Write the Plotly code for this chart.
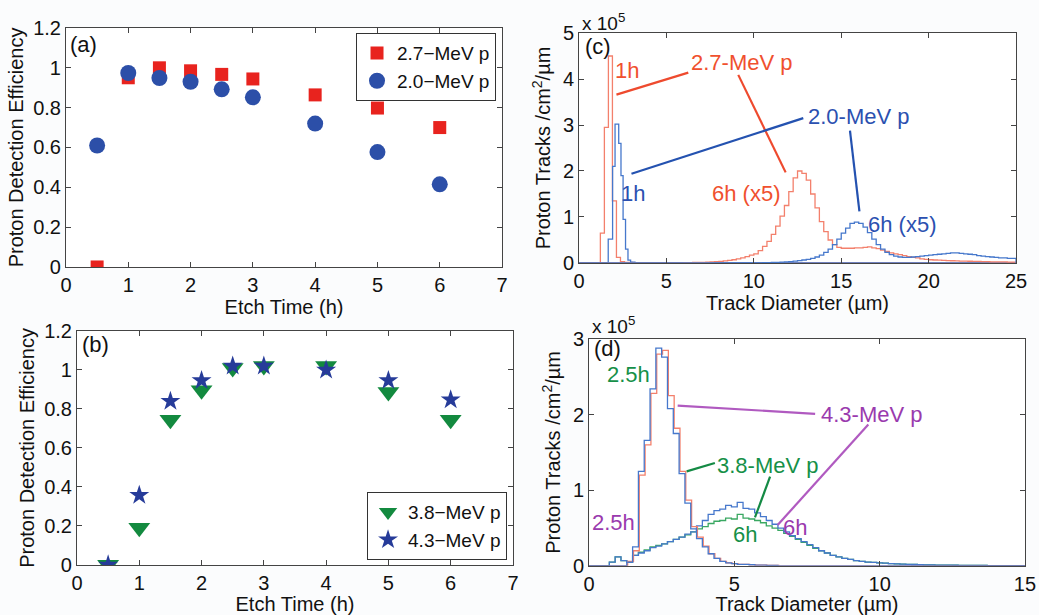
import numpy as np
import plotly.graph_objects as go

# ---------------- data ----------------
etch_time = [0.5, 1, 1.5, 2, 2.5, 3, 4, 5, 6]
eff_27 = [0.0, 0.95, 1.0, 0.985, 0.967, 0.944, 0.864, 0.798, 0.70]
eff_20 = [0.61, 0.974, 0.949, 0.93, 0.892, 0.852, 0.72, 0.577, 0.415]
eff_38 = [0.0, 0.19, 0.745, 0.896, 1.01, 1.02, 1.02, 0.887, 0.745]
eff_43 = [0.0, 0.357, 0.84, 0.946, 1.02, 1.02, 1.0, 0.946, 0.847]

# panel (c) histograms (units of 1e5 tracks/cm^2/um)
c_red1h_start, c_red1h_width = 1.22, 0.23
c_red1h_vals = [0.65, 2.95, 4.5, 1.35, 0.12, 0.03, 0.01, 0.01, 0.005]
c_blue1h_edges = [1.67, 1.92, 2.06, 2.27, 2.40, 2.52, 2.66, 2.80, 2.95, 3.2]
c_blue1h_vals = [0.52, 2.1, 3.02, 2.6, 1.9, 0.95, 0.3, 0.06, 0.02]
c_red6h_start, c_red6h_width = 6.0, 0.25
c_red6h_vals = [0.005, 0.007, 0.01, 0.012, 0.015, 0.02, 0.025, 0.03,
                0.035, 0.045, 0.055, 0.07, 0.09, 0.11, 0.14, 0.17,
                0.2, 0.27, 0.36, 0.47, 0.62, 0.8, 1.02, 1.25,
                1.55, 1.85, 2.0, 1.95, 1.8, 1.5, 1.2, 0.9,
                0.68, 0.5, 0.4, 0.34, 0.32, 0.32, 0.32, 0.33,
                0.33, 0.34, 0.35, 0.33, 0.31, 0.28, 0.25, 0.22,
                0.2, 0.18, 0.16, 0.14, 0.12, 0.11, 0.09, 0.08,
                0.07, 0.065, 0.06, 0.055, 0.05, 0.048, 0.045, 0.042,
                0.04, 0.038, 0.035, 0.033, 0.03, 0.028, 0.026, 0.025,
                0.024, 0.022, 0.02, 0.02]
c_blue6h_start, c_blue6h_width = 10.0, 0.25
c_blue6h_vals = [0.003, 0.004, 0.005, 0.007, 0.01, 0.013, 0.017, 0.022,
                 0.03, 0.04, 0.05, 0.065, 0.08, 0.1, 0.13, 0.17,
                 0.23, 0.3, 0.4, 0.52, 0.65, 0.76, 0.86, 0.89,
                 0.86, 0.78, 0.66, 0.52, 0.4, 0.3, 0.23, 0.18,
                 0.15, 0.13, 0.12, 0.12, 0.13, 0.14, 0.15, 0.16,
                 0.17, 0.18, 0.19, 0.2, 0.21, 0.22, 0.22, 0.21,
                 0.2, 0.19, 0.18, 0.16, 0.15, 0.14, 0.13, 0.12,
                 0.11, 0.11, 0.1, 0.1]

# panel (d) histograms
d_blue25_start, d_bin = 1.3, 0.2
d_blue25_vals = [0.05, 0.25, 1.25, 1.66, 2.34, 2.88, 2.76, 2.08, 1.75, 1.22,
                 0.83, 0.49, 0.36, 0.25, 0.16, 0.1, 0.06, 0.04, 0.03, 0.02,
                 0.02, 0.015, 0.01, 0.01, 0.005, 0.005]
d_red25_start = 1.33
d_red25_vals = [0.06, 0.2, 1.2, 1.6, 2.28, 2.8, 2.85, 2.25, 1.82, 1.25,
                0.87, 0.52, 0.38, 0.26, 0.16, 0.1, 0.06, 0.04, 0.03, 0.02,
                0.02, 0.015, 0.01, 0.01, 0.005, 0.005]
d_6h_start = 0.7
d_tail = [0.03, 0.026, 0.022, 0.02, 0.018, 0.016, 0.014, 0.012, 0.011, 0.01,
          0.009, 0.008, 0.007, 0.006, 0.006, 0.005, 0.005, 0.004, 0.004, 0.003,
          0.003, 0.003, 0.002, 0.002]
d_green6h_vals = [0.05, 0.12, 0.07, 0.05, 0.14, 0.18, 0.21, 0.25, 0.27, 0.29,
                  0.32, 0.35, 0.38, 0.41, 0.45, 0.49, 0.52, 0.56, 0.59, 0.6,
                  0.63, 0.62, 0.68, 0.63, 0.62, 0.6, 0.57, 0.53, 0.5, 0.47,
                  0.43, 0.39, 0.35, 0.31, 0.27, 0.23, 0.2, 0.17, 0.14, 0.12,
                  0.1, 0.085, 0.07, 0.06, 0.05, 0.045, 0.04, 0.035] + d_tail
d_blue6h_vals = [0.05, 0.12, 0.07, 0.05, 0.14, 0.17, 0.2, 0.24, 0.26, 0.29,
                 0.32, 0.35, 0.38, 0.42, 0.45, 0.53, 0.6, 0.68, 0.73, 0.75,
                 0.8, 0.78, 0.84, 0.76, 0.75, 0.7, 0.65, 0.6, 0.55, 0.5,
                 0.45, 0.4, 0.36, 0.32, 0.28, 0.24, 0.2, 0.17, 0.14, 0.12,
                 0.1, 0.085, 0.07, 0.06, 0.05, 0.045, 0.04, 0.035] + d_tail

# ---------------- styling ----------------
FONT = "Liberation Sans, Arial, sans-serif"
RED_M, BLUE_M, GREEN_M, NAVY_M = "#e8231e", "#2c4fa8", "#138a3f", "#263b99"
RED_H, BLUE_H, GREEN_H = "#f3806c", "#4678cc", "#3aa862"
RED_T, BLUE_T, GREEN_T, PURP_T = "#f0502e", "#2b50b0", "#169048", "#9a3aae"
TS = 20  # tick / title font size


def step_xy(edges, vals, xmin, xmax):
    edges = list(edges)
    x = [xmin] + edges + [xmax]
    y = [0] + list(vals) + [0, 0]
    return x, y


def reg_edges(start, width, n):
    return start + width * np.arange(n + 1)


fig = go.Figure()

# (a)
fig.add_trace(go.Scatter(x=etch_time, y=eff_27, mode="markers", name="2.7\u2212MeV p",
                         marker=dict(symbol="square", size=13, color=RED_M),
                         xaxis="x", yaxis="y", legend="legend"))
fig.add_trace(go.Scatter(x=etch_time, y=eff_20, mode="markers", name="2.0\u2212MeV p",
                         marker=dict(symbol="circle", size=16, color=BLUE_M),
                         xaxis="x", yaxis="y", legend="legend"))
# (b)
fig.add_trace(go.Scatter(x=etch_time, y=eff_38, mode="markers", name="3.8\u2212MeV p",
                         marker=dict(symbol="triangle-down", size=19, color=GREEN_M),
                         xaxis="x3", yaxis="y3", legend="legend2"))
fig.add_trace(go.Scatter(x=etch_time, y=eff_43, mode="markers", name="4.3\u2212MeV p",
                         marker=dict(symbol="star", size=15, color=NAVY_M),
                         xaxis="x3", yaxis="y3", legend="legend2"))

# (c)
hist_c = [
    (reg_edges(c_red1h_start, c_red1h_width, len(c_red1h_vals)), c_red1h_vals, RED_H),
    (c_blue1h_edges, c_blue1h_vals, BLUE_H),
    (reg_edges(c_red6h_start, c_red6h_width, len(c_red6h_vals)), c_red6h_vals, RED_H),
    (reg_edges(c_blue6h_start, c_blue6h_width, len(c_blue6h_vals)), c_blue6h_vals, BLUE_H),
]
for e, v, col in hist_c:
    x, y = step_xy(e, v, 0, 25)
    fig.add_trace(go.Scatter(x=x, y=y, mode="lines", line=dict(color=col, width=1.3, shape="hv"),
                             showlegend=False, xaxis="x2", yaxis="y2", hoverinfo="skip"))

# (d)
hist_d = [
    (reg_edges(d_6h_start, d_bin, len(d_green6h_vals)), d_green6h_vals, GREEN_H),
    (reg_edges(d_6h_start, d_bin, len(d_blue6h_vals)), d_blue6h_vals, BLUE_H),
    (reg_edges(d_red25_start, d_bin, len(d_red25_vals)), d_red25_vals, RED_H),
    (reg_edges(d_blue25_start, d_bin, len(d_blue25_vals)), d_blue25_vals, BLUE_H),
]
for e, v, col in hist_d:
    x, y = step_xy(e, v, 0, 15)
    fig.add_trace(go.Scatter(x=x, y=y, mode="lines", line=dict(color=col, width=1.3, shape="hv"),
                             showlegend=False, xaxis="x4", yaxis="y4", hoverinfo="skip"))

axis_common = dict(showline=True, linecolor="#444", linewidth=1, mirror="ticks",
                   ticks="inside", ticklen=5, tickcolor="#444", showgrid=False, zeroline=False,
                   automargin=False,
                   tickfont=dict(family=FONT, size=TS, color="#111"))
tf = dict(family=FONT, size=TS, color="#111")

fig.update_layout(
    width=1039, height=615, margin=dict(l=0, r=0, t=0, b=0, autoexpand=False),
    paper_bgcolor="#fbfcfd", plot_bgcolor="white",
    font=dict(family=FONT, size=TS, color="#111"),
    xaxis=dict(domain=[0.0635, 0.4832], range=[0, 7], dtick=1, anchor="y",
               title=dict(text="Etch Time (h)", standoff=4, font=tf), **axis_common),
    yaxis=dict(domain=[0.5659, 0.9545], range=[0, 1.2], dtick=0.2, anchor="x",
               title=dict(text="Proton Detection Efficiency", standoff=4, font=tf), **axis_common),
    xaxis2=dict(domain=[0.5573, 0.9779], range=[0, 25], dtick=5, anchor="y2",
                title=dict(text="Track Diameter (\u00b5m)", standoff=4, font=tf), **axis_common),
    yaxis2=dict(domain=[0.5724, 0.9463], range=[0, 5], dtick=1, anchor="x2",
                title=dict(text="Proton Tracks /cm<sup>2</sup>/\u00b5m", standoff=6, font=tf), **axis_common),
    xaxis3=dict(domain=[0.0741, 0.4937], range=[0, 7], dtick=1, anchor="y3",
                title=dict(text="Etch Time (h)", standoff=2, font=tf), **axis_common),
    yaxis3=dict(domain=[0.0815, 0.4618], range=[0, 1.2], dtick=0.2, anchor="x3",
                title=dict(text="Proton Detection Efficiency", standoff=4, font=tf), **axis_common),
    xaxis4=dict(domain=[0.5669, 0.9865], range=[0, 15], dtick=5, anchor="y4",
                title=dict(text="Track Diameter (\u00b5m)", standoff=2, font=tf), **axis_common),
    yaxis4=dict(domain=[0.0799, 0.4488], range=[0, 3], dtick=1, anchor="x4",
                title=dict(text="Proton Tracks /cm<sup>2</sup>/\u00b5m", standoff=6, font=tf), **axis_common),
    legend=dict(x=0.4774, y=0.946, xanchor="right", yanchor="top", bgcolor="white",
                bordercolor="#333", borderwidth=1, font=dict(family=FONT, size=19, color="#111"),
                itemsizing="trace", tracegroupgap=0),
    legend2=dict(x=0.488, y=0.0893, xanchor="right", yanchor="bottom", bgcolor="white",
                 bordercolor="#333", borderwidth=1, font=dict(family=FONT, size=19, color="#111"),
                 itemsizing="trace", tracegroupgap=0),
)

ann = []


def txt(text, x, y, xref, yref, color="#111", size=22, xanchor="center"):
    ann.append(dict(text=text, x=x, y=y, xref=xref, yref=yref, showarrow=False,
                    font=dict(family=FONT, size=size, color=color), xanchor=xanchor, yanchor="middle"))


# panel labels
txt("(a)", 0.005, 0.929, "x domain", "y domain", xanchor="left")
txt("(b)", 0.007, 0.941, "x3 domain", "y3 domain", xanchor="left")
txt("(c)", 0.23, 4.71, "x2", "y2", xanchor="left")
txt("(d)", 0.09, 2.88, "x4", "y4", xanchor="left")
# multipliers
txt("x 10<sup>5</sup>", 0.5582, 1 - 22 / 615, "paper", "paper", size=19, xanchor="left")
txt("x 10<sup>5</sup>", 0.5678, 1 - 325 / 615, "paper", "paper", size=19, xanchor="left")

# (c) labels
txt("1h", 2.76, 4.18, "x2", "y2", RED_T)
txt("2.7-MeV p", 9.35, 4.35, "x2", "y2", RED_T)
txt("2.0-MeV p", 16.0, 3.19, "x2", "y2", BLUE_T)
txt("1h", 3.06, 1.52, "x2", "y2", BLUE_T)
txt("6h (x5)", 9.54, 1.52, "x2", "y2", RED_T)
txt("6h (x5)", 18.5, 0.83, "x2", "y2", BLUE_T)
# (d) labels
txt("2.5h", 1.37, 2.53, "x4", "y4", GREEN_T)
txt("2.5h", 0.85, 0.57, "x4", "y4", PURP_T)
txt("4.3-MeV p", 9.73, 2.0, "x4", "y4", PURP_T)
txt("3.8-MeV p", 6.17, 1.33, "x4", "y4", GREEN_T)
txt("6h", 5.37, 0.42, "x4", "y4", GREEN_T)
txt("6h", 7.09, 0.51, "x4", "y4", PURP_T)

fig.update_layout(annotations=ann)

shapes = []


def seg(x0, y0, x1, y1, xr, yr, color):
    shapes.append(dict(type="line", x0=x0, y0=y0, x1=x1, y1=y1, xref=xr, yref=yr,
                       line=dict(color=color, width=2.2)))


seg(2.14, 3.66, 6.25, 4.14, "x2", "y2", "#ee4a2e")
seg(9.11, 4.09, 11.82, 1.97, "x2", "y2", "#ee4a2e")
seg(3.0, 1.94, 12.83, 3.15, "x2", "y2", "#2452b0")
seg(15.5, 2.88, 16.04, 1.12, "x2", "y2", "#2452b0")
seg(3.05, 2.12, 7.78, 2.01, "x4", "y4", "#b05ac0")
seg(9.61, 1.87, 6.49, 0.54, "x4", "y4", "#b05ac0")
seg(3.36, 1.25, 4.33, 1.36, "x4", "y4", "#148a44")
seg(6.23, 1.18, 5.71, 0.64, "x4", "y4", "#148a44")
fig.update_layout(shapes=shapes)

fig.write_html("out.html")
